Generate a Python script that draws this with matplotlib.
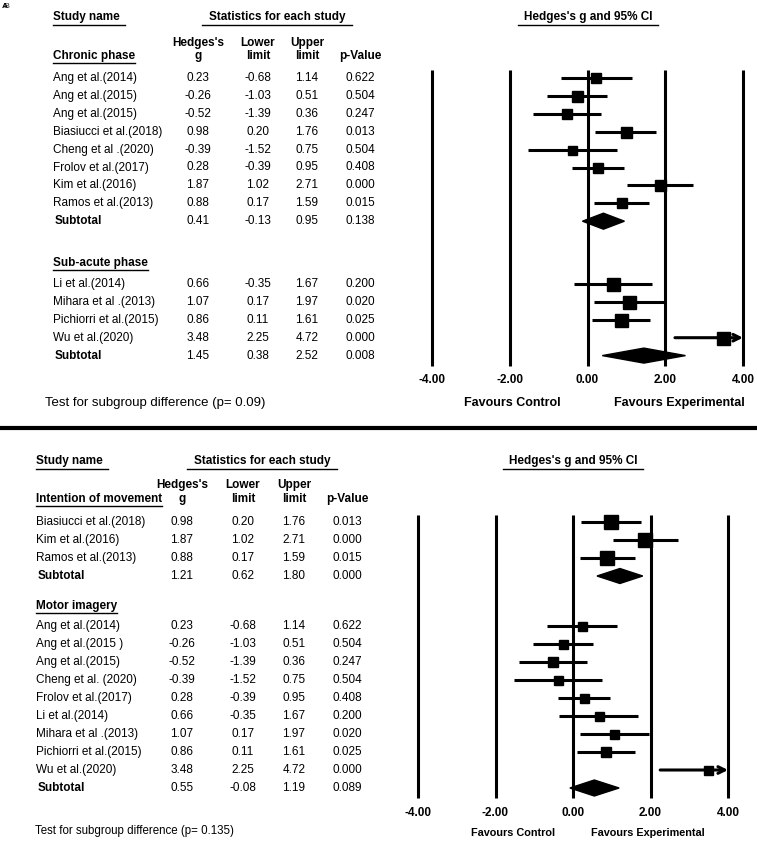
import matplotlib.pyplot as plt

plt.rcParams['font.family'] = ['Liberation Sans', 'DejaVu Sans']

# DATA
chronic_names = ["Ang et al.(2014)", "Ang et al.(2015)", "Ang et al.(2015)", "Biasiucci et al.(2018)",
                 "Cheng et al .(2020)", "Frolov et al.(2017)", "Kim et al.(2016)", "Ramos et al.(2013)"]
chronic_g = [0.23, -0.26, -0.52, 0.98, -0.39, 0.28, 1.87, 0.88]
chronic_lo = [-0.68, -1.03, -1.39, 0.20, -1.52, -0.39, 1.02, 0.17]
chronic_hi = [1.14, 0.51, 0.36, 1.76, 0.75, 0.95, 2.71, 1.59]
chronic_p = ["0.622", "0.504", "0.247", "0.013", "0.504", "0.408", "0.000", "0.015"]
chronic_sub = [0.41, -0.13, 0.95, "0.138"]

subacute_names = ["Li et al.(2014)", "Mihara et al .(2013)", "Pichiorri et al.(2015)", "Wu et al.(2020)"]
subacute_g = [0.66, 1.07, 0.86, 3.48]
subacute_lo = [-0.35, 0.17, 0.11, 2.25]
subacute_hi = [1.67, 1.97, 1.61, 4.72]
subacute_p = ["0.200", "0.020", "0.025", "0.000"]
subacute_sub = [1.45, 0.38, 2.52, "0.008"]

intention_names = ["Biasiucci et al.(2018)", "Kim et al.(2016)", "Ramos et al.(2013)"]
intention_g = [0.98, 1.87, 0.88]
intention_lo = [0.20, 1.02, 0.17]
intention_hi = [1.76, 2.71, 1.59]
intention_p = ["0.013", "0.000", "0.015"]
intention_sub = [1.21, 0.62, 1.80, "0.000"]

motor_names = ["Ang et al.(2014)", "Ang et al.(2015 )", "Ang et al.(2015)", "Cheng et al. (2020)",
               "Frolov et al.(2017)", "Li et al.(2014)", "Mihara et al .(2013)", "Pichiorri et al.(2015)",
               "Wu et al.(2020)"]
motor_g = [0.23, -0.26, -0.52, -0.39, 0.28, 0.66, 1.07, 0.86, 3.48]
motor_lo = [-0.68, -1.03, -1.39, -1.52, -0.39, -0.35, 0.17, 0.11, 2.25]
motor_hi = [1.14, 0.51, 0.36, 0.75, 0.95, 1.67, 1.97, 1.61, 4.72]
motor_p = ["0.622", "0.504", "0.247", "0.504", "0.408", "0.200", "0.020", "0.025", "0.000"]
motor_sub = [0.55, -0.08, 1.19, "0.089"]

ticks = [-4, -2, 0, 2, 4]

# box sizes (px) as drawn, roughly by weight
chronic_box = [10, 11, 10, 11, 9, 10, 11, 10]
subacute_box = [13, 13, 13, 13]
intention_box = [14, 14, 14]
motor_box = [9, 9, 10, 9, 9, 9, 9, 10, 9]

W, H = 757, 848
fig = plt.figure(figsize=(W / 100, H / 100), dpi=100)
ax0 = fig.add_axes([0, 0, 1, 1])
ax0.set_xlim(0, W)
ax0.set_ylim(H, 0)
ax0.axis('off')

FS = 8.5
LW = 2.2


def forest_ax(x_left, x_right):
    ax = fig.add_axes([x_left / W, 0, (x_right - x_left) / W, 1])
    ax.set_xlim(-4, 4)
    ax.set_ylim(H, 0)
    ax.axis('off')
    return ax


def underline(x0, x1, y):
    ax0.plot([x0, x1], [y, y], color='black', lw=1.0, clip_on=False)


def header(cfg):
    # cfg: dict of pixel positions for one panel
    ax0.text(cfg['name_x'], cfg['head_y'], "Study name", fontsize=FS, fontweight='bold', va='center')
    underline(cfg['name_x'], cfg['name_x'] + 72, cfg['head_y'] + 8)
    ax0.text(cfg['stat_c'], cfg['head_y'], "Statistics for each study", fontsize=FS, fontweight='bold',
             va='center', ha='center')
    underline(cfg['stat_c'] - 75, cfg['stat_c'] + 75, cfg['head_y'] + 8)
    ax0.text(cfg['ci_c'], cfg['head_y'], "Hedges's g and 95% CI", fontsize=FS, fontweight='bold',
             va='center', ha='center')
    underline(cfg['ci_c'] - 70, cfg['ci_c'] + 70, cfg['head_y'] + 8)
    cols = cfg['cols']
    y1, y2 = cfg['col_y']
    for cx, (a, b) in zip(cols, [("Hedges's", "g"), ("Lower", "limit"), ("Upper", "limit")]):
        ax0.text(cx, y1, a, fontsize=FS, fontweight='bold', va='center', ha='center')
        ax0.text(cx, y2, b, fontsize=FS, fontweight='bold', va='center', ha='center')
    ax0.text(cols[3], y2, "p-Value", fontsize=FS, fontweight='bold', va='center', ha='center')


def group(ax, cfg, title, title_y, y0, names, g, lo, hi, p, sub, box, dh):
    t = ax0.text(cfg['name_x'], title_y, title, fontsize=FS, fontweight='bold', va='center')
    fig.canvas.draw()
    bb = t.get_window_extent()
    underline(cfg['name_x'], cfg['name_x'] + bb.width, title_y + 7)
    cols = cfg['cols']
    sp = cfg['sp']
    for i, nm in enumerate(names):
        y = y0 + i * sp
        ax0.text(cfg['name_x'], y, nm, fontsize=FS, va='center')
        for cx, v in zip(cols[:3], [g[i], lo[i], hi[i]]):
            ax0.text(cx, y, f"{v:.2f}", fontsize=FS, va='center', ha='center')
        ax0.text(cols[3], y, p[i], fontsize=FS, va='center', ha='center')
        if hi[i] > 4:
            ax.annotate("", xy=(4, y), xytext=(lo[i], y),
                        arrowprops=dict(arrowstyle='->', lw=LW, color='black',
                                        shrinkA=0, shrinkB=0, mutation_scale=12))
        else:
            ax.plot([lo[i], hi[i]], [y, y], color='black', lw=LW, solid_capstyle='butt', clip_on=False)
        ax.plot(g[i], y, marker='s', ms=box[i] * 0.72, color='black', zorder=5, clip_on=False)
    ys = y0 + len(names) * sp
    ax0.text(cfg['name_x'] + 2, ys, "Subtotal", fontsize=FS, fontweight='bold', va='center')
    for cx, v in zip(cols[:3], sub[:3]):
        ax0.text(cx, ys, f"{v:.2f}", fontsize=FS, va='center', ha='center')
    ax0.text(cols[3], ys, sub[3], fontsize=FS, va='center', ha='center')
    ax.fill([sub[1], sub[0], sub[2], sub[0]], [ys, ys - dh, ys, ys + dh], color='black', zorder=5)


def axis_part(ax, y_top, y_bot, lab_y, fav_y, fav_fs, fav_c, fav_e):
    ax.vlines(ticks, y_top, y_bot, color='black', lw=LW, clip_on=False)
    for tk in ticks:
        ax.text(tk, lab_y, f"{tk:.2f}", fontsize=FS, fontweight='bold', ha='center', va='center')
    ax0.text(fav_c, fav_y, "Favours Control", fontsize=fav_fs, fontweight='bold', ha='center', va='center')
    ax0.text(fav_e, fav_y, "Favours Experimental", fontsize=fav_fs, fontweight='bold', ha='center', va='center')


# panel label
ax0.text(2, 6, "A", fontsize=6, fontweight='bold', va='center')
ax0.text(3, 7, "B", fontsize=6, fontweight='bold', va='center', alpha=0.6)

# TOP PANEL
top = dict(name_x=53, head_y=17, stat_c=277, ci_c=588, cols=[198, 258, 307, 360], col_y=(43, 56), sp=17.9)
axA = forest_ax(432, 743)
header(top)
group(axA, top, "Chronic phase", 56, 78, chronic_names, chronic_g, chronic_lo, chronic_hi, chronic_p,
      chronic_sub, chronic_box, 8)
group(axA, top, "Sub-acute phase", 263, 284, subacute_names, subacute_g, subacute_lo, subacute_hi,
      subacute_p, subacute_sub, subacute_box, 7.5)
axis_part(axA, 70, 366, 380, 403, 9, 512, 679)
ax0.text(45, 403, "Test for subgroup difference (p= 0.09)", fontsize=9.5, va='center')

# separator
ax0.plot([0, W], [428, 428], color='black', lw=3, solid_capstyle='butt')

# BOTTOM PANEL
bot = dict(name_x=36, head_y=461, stat_c=262, ci_c=573, cols=[182, 243, 294, 347], col_y=(485, 499), sp=18.0)
axB = forest_ax(418, 728)
header(bot)
group(axB, bot, "Intention of movement", 499, 522, intention_names, intention_g, intention_lo,
      intention_hi, intention_p, intention_sub, intention_box, 7.5)
group(axB, bot, "Motor imagery", 606, 626, motor_names, motor_g, motor_lo, motor_hi, motor_p,
      motor_sub, motor_box, 8)
axis_part(axB, 515, 798, 813, 833, 7.8, 513, 648)
ax0.text(35, 831, "Test for subgroup difference (p= 0.135)", fontsize=8.3, va='center')

fig.savefig("out.png", dpi=100)
